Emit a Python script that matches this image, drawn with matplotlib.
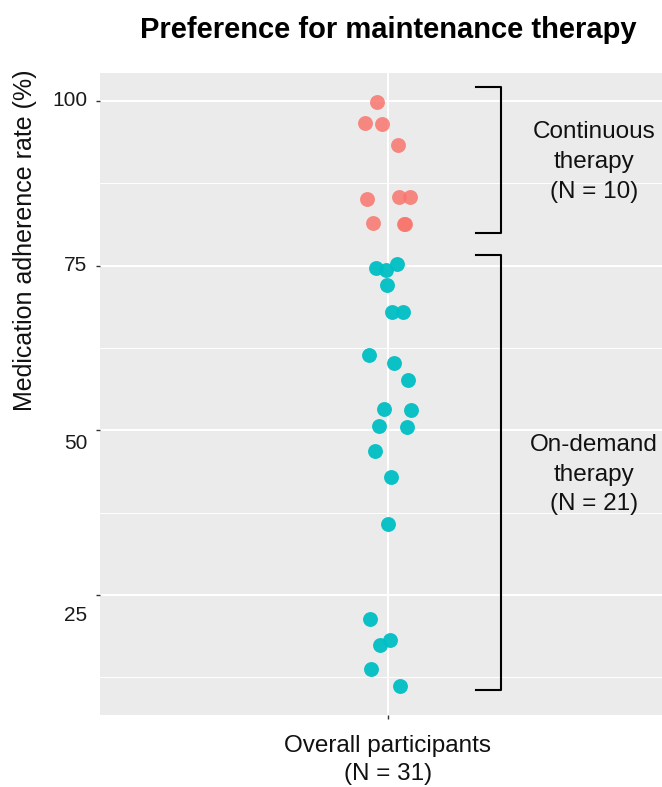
import numpy as np
import matplotlib
matplotlib.use("Agg")
import matplotlib.pyplot as plt

plt.rcParams["font.family"] = ["Liberation Sans", "DejaVu Sans"]

# ----------------------------
# DATA
# ----------------------------
cont_adherence = [99.8, 96.6, 96.5, 93.3, 85.2, 85.4, 85.4, 81.5, 81.4, 81.4]
cont_jitter = [-0.022, -0.047, -0.013, 0.020, -0.044, 0.023, 0.046, -0.031, 0.033, 0.036]

ond_adherence = [74.7, 74.4, 75.3, 72.1, 68.0, 68.0, 61.4, 60.3, 57.7, 53.2, 53.1,
                 50.7, 50.5, 46.9, 43.0, 35.8, 21.3, 18.2, 17.5, 13.8, 11.2]
ond_jitter = [-0.025, -0.004, 0.018, -0.002, 0.009, 0.031, -0.040, 0.013, 0.042,
              -0.008, 0.049, -0.018, 0.040, -0.028, 0.007, 0.001, -0.038, 0.004,
              -0.016, -0.035, 0.026]

groups = ["Continuous\ntherapy\n(N = 10)", "On-demand\ntherapy\n(N = 21)"]
group_colors = ["#F8766D", "#00BFC4"]
bracket_ranges = [(80.0, 102.1), (10.6, 76.6)]

y_ticks = [25, 50, 75, 100]
y_label_shift = [20, 13, 0, 0]  # label nudges (px) as in the reference

# ----------------------------
# PLOT
# ----------------------------
fig = plt.figure(figsize=(6.62, 7.87), dpi=100)
ax = fig.add_axes([100 / 662, 1 - 715 / 787, 562 / 662, 642 / 787])
ax.set_facecolor("#EBEBEB")

ax.scatter(1 + np.array(cont_jitter), cont_adherence, s=115, color=group_colors[0],
           alpha=0.85, linewidths=0, zorder=3)
ax.scatter(1 + np.array(ond_jitter), ond_adherence, s=115, color=group_colors[1],
           alpha=0.95, linewidths=0, zorder=3)

ax.set_xlim(0.4, 1.571)
ax.set_ylim(6.8, 104.25)

# grid
ax.set_yticks(y_ticks)
ax.set_yticks([12.5, 37.5, 62.5, 87.5], minor=True)
ax.set_xticks([1])
ax.grid(which="major", color="white", linewidth=1.4, zorder=0)
ax.grid(which="minor", axis="y", color="white", linewidth=0.7, zorder=0)
ax.set_axisbelow(True)
for s in ax.spines.values():
    s.set_visible(False)
ax.tick_params(axis="both", which="major", length=3, width=1, color="#333333",
               labelleft=False, labelbottom=False)
ax.tick_params(which="minor", length=0)

for v, d in zip(y_ticks, y_label_shift):
    ax.annotate(str(v), xy=(0, v), xycoords=("axes fraction", "data"),
                xytext=(-9, -d * 0.72), textcoords="offset points",
                ha="right", va="center", fontsize=15, color="#1a1a1a")

# brackets
for (lo, hi), label in zip(bracket_ranges, groups):
    ax.plot([1.183, 1.235, 1.235, 1.183], [hi, hi, lo, lo], color="black",
            linewidth=1.5, solid_joinstyle="round", zorder=4)
    ax.text(1.429, (lo + hi) / 2 - 0.3, label, ha="center", va="center",
            fontsize=17.5, linespacing=1.45, color="#111111")

# titles / labels
fig.text(388 / 662, 1 - 30 / 787, "Preference for maintenance therapy",
         ha="center", va="center", fontsize=21, fontweight="bold")
fig.text(25 / 662, 1 - 240 / 787, "Medication adherence rate (%)",
         rotation=90, ha="center", va="center", fontsize=18, color="#111111")
fig.text(388 / 662, 1 - 760 / 787, "Overall participants\n(N = 31)",
         ha="center", va="center", fontsize=17.5, linespacing=1.4, color="#111111")

plt.savefig("out.png", dpi=100)
